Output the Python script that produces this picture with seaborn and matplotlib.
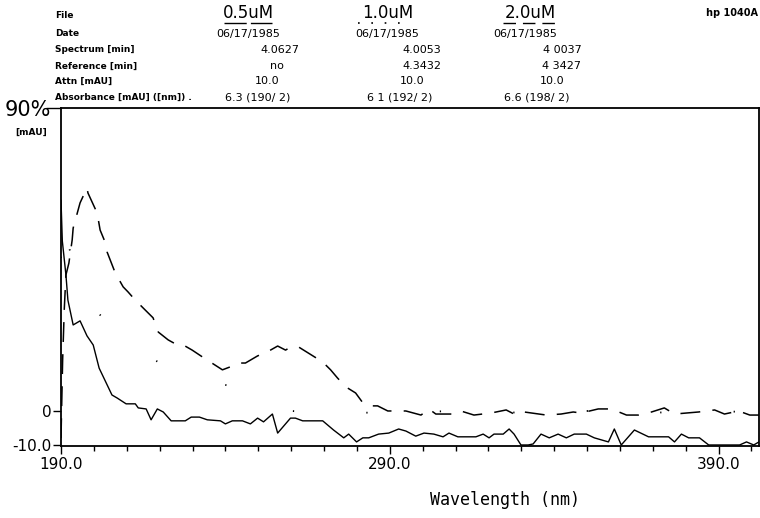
import matplotlib
matplotlib.use("Agg")
import matplotlib.pyplot as plt
import seaborn as sns
import pandas as pd
from matplotlib.lines import Line2D
from matplotlib.ticker import MultipleLocator

# ---------------- data ----------------
wl_05 = [190.0, 190.4, 191.5, 192.1, 193.7, 195.8, 197.9, 199.8, 201.6, 205.5, 207.1, 209.8,
         212.6, 213.5, 215.9, 217.4, 219.3, 221.1, 223.5, 227.8, 229.6, 232.1, 234.5, 238.5,
         240.0, 242.1, 245.2, 247.6, 249.8, 251.6, 254.3, 255.9, 259.8, 261.3, 263.5, 269.6,
         272.9, 276.0, 277.5, 279.9, 281.8, 283.6, 286.6, 289.7, 292.7, 294.9, 297.9, 300.4,
         303.4, 306.2, 308.0, 310.7, 316.2, 318.4, 320.2, 321.7, 324.5, 326.3, 327.8, 329.9,
         332.1, 333.6, 336.0, 338.5, 341.2, 343.7, 346.1, 349.8, 352.2, 356.5, 358.3, 360.4,
         364.4, 368.7, 374.8, 376.6, 378.7, 380.9, 384.2, 387.0, 390.3, 396.4, 398.5, 400.7,
         402.3]
abs_05 = [62.0, 50.0, 40.0, 32.6, 25.3, 26.5, 22.1, 19.4, 12.6, 4.7, 3.8, 2.1,
          2.1, 0.9, 0.6, -2.6, 0.6, -0.3, -2.9, -2.9, -1.8, -1.8, -2.6, -2.9,
          -3.8, -2.9, -2.9, -3.8, -2.1, -3.2, -0.9, -6.5, -2.1, -2.1, -2.9, -2.9,
          -5.6, -7.9, -6.8, -9.1, -7.9, -7.9, -6.8, -6.5, -5.3, -5.9, -7.4, -6.5,
          -6.8, -7.6, -6.5, -7.6, -7.6, -6.8, -7.9, -6.8, -6.8, -5.3, -6.8, -10.0,
          -10.0, -9.7, -6.8, -7.9, -6.8, -7.9, -6.8, -6.8, -7.9, -9.1, -5.3, -10.0,
          -5.6, -7.6, -7.6, -9.1, -6.8, -7.9, -7.9, -10.0, -10.0, -10.0, -9.1, -10.0,
          -9.1]

wl_10 = [190.0, 190.6, 191.2, 192.0, 195.0, 199.0, 203.4, 208.0, 215.0, 222.0, 230.0, 238.0,
         244.9, 250.0, 255.0, 260.0, 270.0, 290.0, 310.0, 330.0, 350.0, 370.0, 390.0, 402.3]
abs_10 = [45.0, 52.0, 57.0, 50.0, 38.0, 31.0, 26.8, 22.0, 17.0, 13.0, 10.0, 8.0,
          6.8, 4.0, 1.2, 0.0, -0.5, -0.5, 0.0, -0.5, 0.0, -0.5, 0.0, -0.5]

wl_20 = [190.0, 190.5, 191.0, 191.5, 192.4, 193.4, 193.7, 195.8, 197.9, 198.2, 201.0, 201.9,
         203.4, 204.0, 206.5, 208.9, 210.4, 212.6, 215.6, 218.0, 219.6, 222.6, 225.4, 227.2,
         229.9, 233.0, 239.1, 242.1, 244.0, 246.1, 249.8, 252.8, 255.9, 258.3, 259.8, 262.3,
         269.6, 272.0, 274.1, 276.6, 279.6, 281.8, 283.6, 286.3, 289.4, 294.9, 299.5, 301.9,
         304.0, 309.2, 311.6, 315.6, 320.8, 325.4, 327.8, 330.9, 337.6, 342.1, 345.8, 348.2,
         353.4, 357.4, 362.0, 365.6, 369.6, 373.5, 376.6, 383.9, 388.8, 391.8, 396.1, 399.5,
         402.3]
abs_20 = [-8.0, 15.0, 30.0, 40.0, 43.5, 50.3, 53.8, 61.2, 65.6, 64.1, 58.2, 53.2,
          49.7, 46.8, 40.6, 36.5, 35.0, 32.6, 29.7, 27.4, 23.2, 20.9, 19.4, 19.4,
          17.9, 15.9, 12.1, 13.2, 14.1, 14.1, 16.2, 17.4, 19.1, 17.9, 18.8, 18.8,
          14.4, 12.1, 9.7, 7.1, 5.3, 2.4, 1.5, 1.5, 0.0, 0.0, -1.2, 0.6,
          -0.9, -0.9, 0.0, -1.2, -0.6, 0.3, -0.9, -0.3, -1.2, -0.9, -0.3, -0.6,
          0.6, 0.6, -1.2, -1.2, -0.3, 0.9, -0.9, -0.3, 0.3, -0.9, 0.0, -1.2,
          -1.2]

x_ticks = [190, 290, 390]
x_tick_labels = ["190.0", "290.0", "390.0"]
y_ticks = [-10, 0, 89.1]
y_tick_labels = ["-10.0", "0", "90%"]

header_rows = ["File", "Date", "Spectrum [min]", "Reference [min]", "Attn [mAU]",
               "Absorbance [mAU] ([nm]) ."]
col_titles = ["0.5uM", "1.0uM", "2.0uM"]
col_dates = ["06/17/1985", "06/17/1985", "06/17/1985"]
col_spectrum = ["4.0627", "4.0053", "4 0037"]
col_reference = ["no", "4.3432", "4 3427"]
col_attn = ["10.0", "10.0", "10.0"]
col_absorb = ["6.3 (190/ 2)", "6 1 (192/ 2)", "6.6 (198/ 2)"]

# ---------------- figure ----------------
sns.set_style("ticks")
plt.rcParams['font.family'] = ['DejaVu Sans']
plt.rcParams['text.color'] = 'black'
plt.rcParams['axes.labelcolor'] = 'black'
plt.rcParams['xtick.color'] = 'black'
plt.rcParams['ytick.color'] = 'black'

W, H = 760, 518
fig = plt.figure(figsize=(W / 100, H / 100), dpi=100)
ax = fig.add_axes([61 / W, 1 - 446 / H, 698 / W, 338 / H])


def px(x, y):
    return x / W, 1 - y / H


df05 = pd.DataFrame({"wl": wl_05, "a": abs_05})
df10 = pd.DataFrame({"wl": wl_10, "a": abs_10})
df20 = pd.DataFrame({"wl": wl_20, "a": abs_20})

sns.lineplot(data=df05, x="wl", y="a", ax=ax, color="black", lw=1.0,
             estimator=None, sort=False)
sns.lineplot(data=df10, x="wl", y="a", ax=ax, color="black", lw=1.3,
             estimator=None, sort=False, linestyle=(0, (0.7, 40)))
sns.lineplot(data=df20, x="wl", y="a", ax=ax, color="black", lw=1.1,
             estimator=None, sort=False, linestyle=(0, (13, 8)))

ax.set_xlim(190, 402.3)
ax.set_ylim(-10.3, 89.1)
ax.set_xlabel("")
ax.set_ylabel("")
ax.set_xticks(x_ticks)
ax.set_xticklabels(x_tick_labels)
ax.xaxis.set_minor_locator(MultipleLocator(10))
ax.set_yticks(y_ticks)
ax.set_yticklabels(y_tick_labels)
ax.tick_params(axis="both", which="major", direction="out", length=6, width=1,
               labelsize=11, color="black", labelcolor="black", pad=1)
ax.tick_params(axis="x", which="minor", direction="out", length=3.5, width=1,
               color="black")
ax.tick_params(axis="x", which="major", pad=2)
ax.get_yticklabels()[2].set_fontsize(15)
ax.yaxis.get_major_ticks()[2].tick1line.set_markersize(11)
for s in ax.spines.values():
    s.set_color("black")
    s.set_linewidth(1.3)

# ---------------- header text ----------------
row_y = [15, 34, 50, 66, 81, 97]
for lab, yy in zip(header_rows, row_y):
    fig.text(*px(55, yy), lab, fontsize=6.5, fontweight="bold", ha="left", va="center",
             family=["DejaVu Sans"], color="black")

title_x = [248, 388, 530]
for t, xx in zip(col_titles, title_x):
    fig.text(*px(xx, 13), t, fontsize=12, ha="center", va="center", color="black")

date_x = [248, 387, 525]
spec_x = [280, 422, 562]
ref_x = [277, 422, 562]
attn_x = [267, 412, 552]
abs_x = [258, 400, 537]
for vals, xs, yy in [(col_dates, date_x, 34), (col_spectrum, spec_x, 50),
                     (col_reference, ref_x, 66), (col_attn, attn_x, 81),
                     (col_absorb, abs_x, 97)]:
    for v, xx in zip(vals, xs):
        fig.text(*px(xx, yy), v, fontsize=8, ha="center", va="center", color="black")

# underlines of the column titles (line-style keys)
fig.add_artist(Line2D([224 / W, 272 / W], [1 - 23 / H] * 2, color="black", lw=1.0,
                      linestyle=(0, (16, 3))))
fig.add_artist(Line2D([358 / W, 406 / W], [1 - 23 / H] * 2, color="black", lw=1.2,
                      linestyle=(0, (1, 7))))
fig.add_artist(Line2D([503 / W, 557 / W], [1 - 23 / H] * 2, color="black", lw=1.0,
                      linestyle=(0, (9, 5))))

fig.text(*px(758, 13), "hp 1040A", fontsize=7, fontweight="bold", ha="right", va="center",
         color="black")
fig.text(*px(31, 132), "[mAU]", fontsize=6.5, fontweight="bold", ha="center", va="center",
         color="black")
fig.text(*px(505, 500), "Wavelength (nm)", fontsize=12, ha="center", va="center",
         family=["DejaVu Sans Mono"], color="black")

fig.savefig("out.png", dpi=100)
